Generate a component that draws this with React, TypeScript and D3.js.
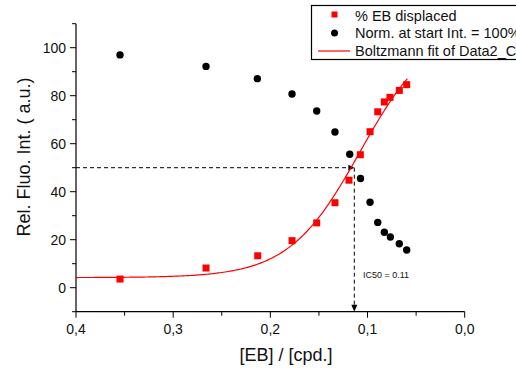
import React from "react";
import * as d3 from "d3";

const ebX = [0.3547, 0.2662, 0.213, 0.1777, 0.1523, 0.1335, 0.1191, 0.1074, 0.0974, 0.0895, 0.0827, 0.0769, 0.0673, 0.0597];
const ebY = [3.6, 8.2, 13.3, 19.6, 27.0, 35.4, 44.8, 55.4, 65.0, 73.3, 77.4, 79.3, 82.2, 84.6];
const normX = [0.3547, 0.2662, 0.2134, 0.1777, 0.1523, 0.1335, 0.1183, 0.1072, 0.0974, 0.0895, 0.0827, 0.0765, 0.0673, 0.0597];
const normY = [97.0, 92.2, 87.1, 80.7, 73.6, 64.9, 55.6, 45.5, 35.6, 27.2, 23.1, 21.1, 18.3, 15.7];
// Boltzmann fit parameters
const fitA1 = 109.2;
const fitA2 = 4.2;
const fitX0 = 0.1076;
const fitDx = 0.0367;
const fitRange = [0.4, 0.059];
const ic50 = 0.1136;
const ic50Level = 50;
const xTicks = [0.4, 0.3, 0.2, 0.1, 0.0];
const xTickLabels = ["0,4", "0,3", "0,2", "0,1", "0,0"];
const xMinor = [0.35, 0.25, 0.15, 0.05];
const yTicks = [0, 20, 40, 60, 80, 100];
const yMinor = [-10, 10, 30, 50, 70, 90, 110];
const legendLabels = ["% EB displaced", "Norm. at start Int. = 100%", "Boltzmann fit of Data2_C"];

const FONT = "'Liberation Sans', Arial, sans-serif";

export default function App() {
  const x = d3.scaleLinear().domain([0.4, 0]).range([76, 464.7]);
  const y = d3.scaleLinear().domain([-10, 110]).range([311.7, 23.7]);

  const boltz = (v: number) => fitA2 + (fitA1 - fitA2) / (1 + Math.exp((v - fitX0) / fitDx));
  const fitPts: [number, number][] = d3
    .range(0, 201)
    .map((i) => fitRange[0] + ((fitRange[1] - fitRange[0]) * i) / 200)
    .map((v) => [v, boltz(v)]);
  const line = d3
    .line<[number, number]>()
    .x((d) => x(d[0]))
    .y((d) => y(d[1]));

  const x0 = x(0.4);
  const x1 = x(0);
  const yb = y(-10);
  const yt = y(110);
  const icx = x(ic50);
  const icy = y(ic50Level);

  return (
    <svg
      width={516}
      height={368}
      style={{ position: "absolute", left: 0, top: 0, background: "#fff" }}
      fontFamily={FONT}
    >
      {/* axes */}
      <line x1={x0} x2={x0} y1={yt} y2={yb} stroke="#000" strokeWidth={1.2} />
      <line x1={x0} x2={x1} y1={yb} y2={yb} stroke="#000" strokeWidth={1.2} />
      {yTicks.map((t) => (
        <g key={"yt" + t}>
          <line x1={x0 - 6} x2={x0} y1={y(t)} y2={y(t)} stroke="#000" />
          <text x={x0 - 10} y={y(t) + 5} textAnchor="end" fontSize={14} fill="#111">
            {t}
          </text>
        </g>
      ))}
      {yMinor.map((t) => (
        <line key={"ym" + t} x1={x0 - 4} x2={x0} y1={y(t)} y2={y(t)} stroke="#000" />
      ))}
      {xTicks.map((t, i) => (
        <g key={"xt" + t}>
          <line x1={x(t)} x2={x(t)} y1={yb} y2={yb + 6} stroke="#000" />
          <text x={x(t)} y={yb + 22} textAnchor="middle" fontSize={14} fill="#111">
            {xTickLabels[i]}
          </text>
        </g>
      ))}
      {xMinor.map((t) => (
        <line key={"xm" + t} x1={x(t)} x2={x(t)} y1={yb} y2={yb + 4} stroke="#000" />
      ))}
      <text x={286} y={361} textAnchor="middle" fontSize={18} fill="#111">
        [EB] / [cpd.]
      </text>
      <text
        transform={`translate(30,157) rotate(-90)`}
        textAnchor="middle"
        fontSize={18}
        fill="#111"
      >
        Rel. Fluo. Int. ( a.u.)
      </text>

      {/* IC50 dashed guides */}
      <line x1={x0} x2={icx - 5} y1={icy} y2={icy} stroke="#000" strokeDasharray="4,3" />
      <path d={`M${icx},${icy} l-6,-3 l0,6 z`} fill="#000" />
      <line x1={icx} x2={icx} y1={icy} y2={yb - 6} stroke="#000" strokeDasharray="4,3" />
      <path d={`M${icx},${yb} l-3,-7 l6,0 z`} fill="#000" />
      <text x={363} y={278} fontSize={9} fill="#111">
        IC50 = 0.11
      </text>

      {/* fit */}
      <path d={line(fitPts) || ""} fill="none" stroke="#ff0000" strokeWidth={1.2} />

      {/* data */}
      {ebX.map((v, i) => (
        <rect key={"eb" + i} x={x(v) - 3.5} y={y(ebY[i]) - 3.5} width={7} height={7} fill="#ff0000" />
      ))}
      {normX.map((v, i) => (
        <circle key={"n" + i} cx={x(v)} cy={y(normY[i])} r={3.7} fill="#000" />
      ))}

      {/* legend */}
      <rect x={311.5} y={5.5} width={220} height={54} fill="#fff" stroke="#000" strokeWidth={1.2} />
      <rect x={331.5} y={11.5} width={6} height={6} fill="#ff0000" />
      <circle cx={334.5} cy={33} r={3.5} fill="#000" />
      <line x1={318} x2={350} y1={51} y2={51} stroke="#ff0000" strokeWidth={1.2} />
      {legendLabels.map((l, i) => (
        <text key={l} x={355} y={20.5 + i * 17.7} fontSize={14.5} fill="#111">
          {l}
        </text>
      ))}
    </svg>
  );
}
